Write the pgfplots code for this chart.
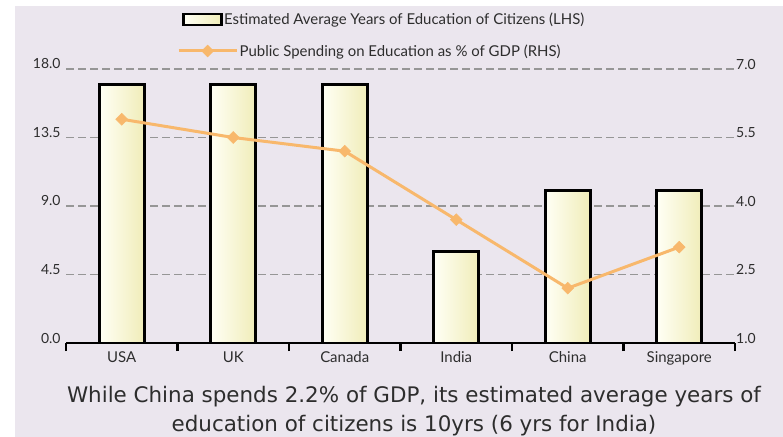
\documentclass[border=0pt]{standalone}
\usepackage{pgfplots}
\pgfplotsset{compat=1.18}
\usepackage{fontspec}
\setmainfont{Lato}
\newfontfamily\capfont{DejaVu Sans}
\definecolor{panel}{RGB}{235,230,238}
\definecolor{barL}{RGB}{255,255,245}
\definecolor{barR}{RGB}{240,237,185}
\definecolor{lineor}{RGB}{248,184,108}
\definecolor{gridc}{RGB}{150,150,150}
\definecolor{txt}{RGB}{45,45,45}
\begin{document}
\begin{tikzpicture}
\useasboundingbox (-66bp,-94bp) rectangle (717bp,343bp);
\fill[white] (-66bp,-94bp) rectangle (717bp,343bp);
\fill[panel] (-51bp,-94bp) rectangle (717bp,337bp);
\begin{axis}[
  at={(0,0)}, anchor=south west,
  width=669bp, height=274bp, scale only axis,
  xmin=-0.5, xmax=5.5, ymin=0, ymax=18,
  xtick={0,...,5},
  xticklabels={USA,UK,Canada,India,China,Singapore},
  minor xtick={-0.5,0.5,...,5.5},
  ytick={0,4.5,9,13.5,18},
  axis x line*=bottom, axis y line*=left,
  y axis line style={draw=none},
  x axis line style={line width=2.5bp, black, -},
  major x tick style={draw=none},
  major y tick style={draw=none},
  minor x tick style={line width=2.5bp, black},
  minor tick length=8bp,
  tick align=outside,
  ymajorgrids,
  major grid style={gridc, line width=1.1bp, dash pattern=on 8bp off 4bp},
  /pgf/number format/assume math mode=true,
  yticklabel style={anchor=base east, inner sep=0pt, xshift=-1bp, font=\fontsize{14}{16}\selectfont, text=txt,
    /pgf/number format/.cd, fixed, fixed zerofill, precision=1},
  xticklabel style={font=\fontsize{15}{17}\selectfont, text=txt, yshift=-1bp},
  legend style={at={(0.1734,1.1807)}, anchor=west, draw=none, fill=none, inner sep=0pt,
    nodes={inner sep=1.5bp, text=txt}, font=\fontsize{15}{17}\selectfont},
  barstyle/.style={ybar, bar width=45bp, draw=black, line width=2.6bp, left color=barL, right color=barR,
    legend image code/.code={\draw[draw=black, line width=2.5bp, left color=barL, right color=barR] (0bp,-5.5bp) rectangle (38bp,5.5bp);}},
]
\addplot[barstyle] coordinates {(0,17)};
\addlegendentry{Estimated Average Years of Education of Citizens (LHS)}
\addplot[barstyle, forget plot] coordinates {(1,17)};
\addplot[barstyle, forget plot] coordinates {(2,17)};
\addplot[barstyle, forget plot] coordinates {(3,6)};
\addplot[barstyle, forget plot] coordinates {(4,10)};
\addplot[barstyle, forget plot] coordinates {(5,10)};
\end{axis}
\begin{axis}[
  at={(0,0)}, anchor=south west,
  width=669bp, height=274bp, scale only axis,
  xmin=-0.5, xmax=5.5, ymin=1, ymax=7,
  axis x line=none, axis y line*=right,
  y axis line style={draw=none},
  major y tick style={draw=none},
  ytick={1,2.5,4,5.5,7},
  /pgf/number format/assume math mode=true,
  yticklabel style={anchor=base west, inner sep=0pt, xshift=1bp, font=\fontsize{14}{16}\selectfont, text=txt,
    /pgf/number format/.cd, fixed, fixed zerofill, precision=1},
  legend style={at={(0.1659,1.0657)}, anchor=west, draw=none, fill=none, inner sep=0pt,
    nodes={inner sep=1.5bp, text=txt}, font=\fontsize{15}{17}\selectfont},
  legend image code/.code={\draw[mark repeat=2,mark phase=2,#1] plot coordinates {(0bp,0bp) (29bp,0bp) (58bp,0bp)};},
]
\addplot[lineor, line width=3bp, mark=square*, mark size=4.2bp, mark options={rotate=45, fill=lineor, draw=lineor, line width=0.5bp}]
  coordinates {(0,5.9) (1,5.5) (2,5.2) (3,3.7) (4,2.2) (5,3.1)};
\addlegendentry{Public Spending on Education as \% of GDP (RHS)}
\end{axis}
\node[anchor=base, text=txt, font=\capfont\fontsize{21.5}{24}\selectfont, inner sep=0pt] at (348bp,-59bp) {While China spends 2.2\% of GDP, its estimated average years of};
\node[anchor=base, text=txt, font=\capfont\fontsize{21.5}{24}\selectfont, inner sep=0pt] at (348bp,-88bp) {education of citizens is 10yrs (6 yrs for India)};
\end{tikzpicture}
\end{document}
